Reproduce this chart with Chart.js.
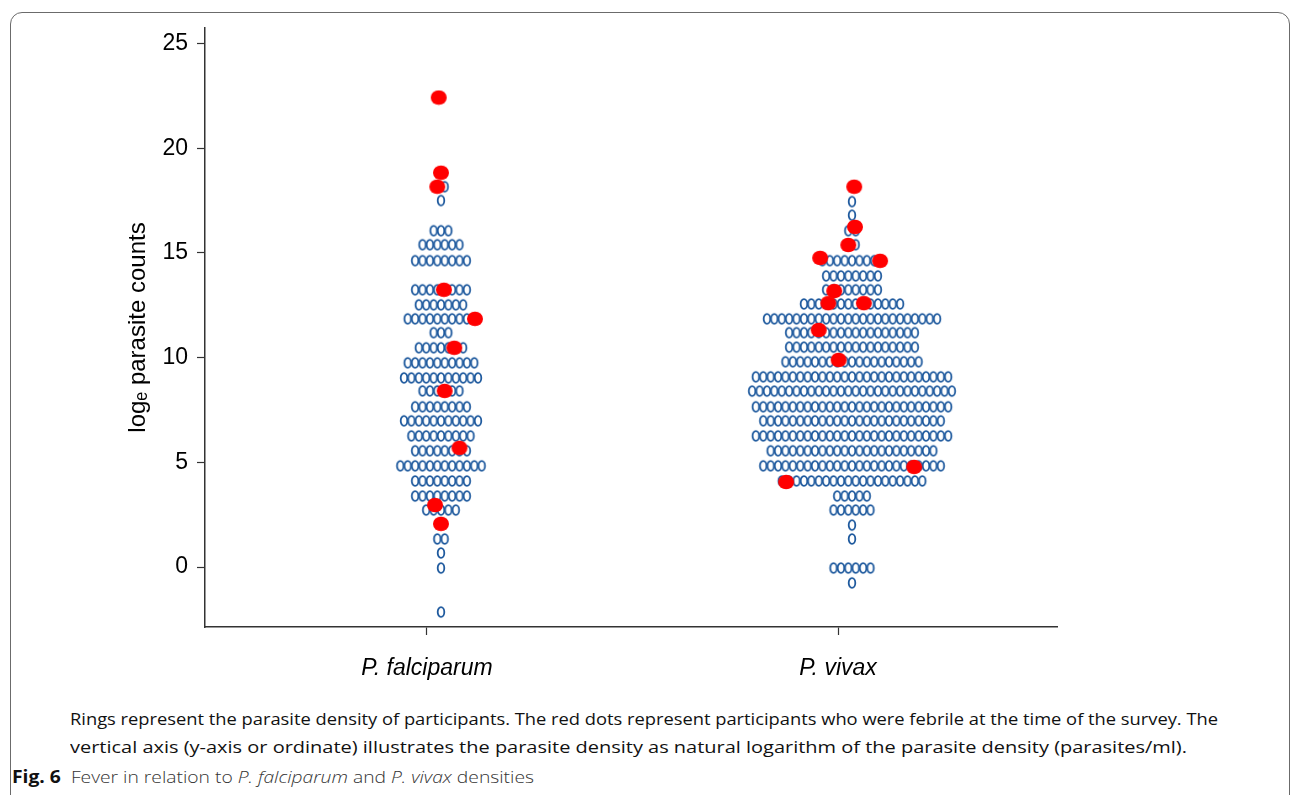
<!DOCTYPE html>
<html><head><meta charset="utf-8">
<script src="https://cdn.jsdelivr.net/npm/chart.js@4.4.1/dist/chart.umd.min.js"></script>
<style>
html,body{margin:0;padding:0;background:#fff;width:1292px;height:795px;overflow:hidden;}
#frame{position:absolute;left:10px;top:12px;width:1278px;height:900px;border:1px solid #6b6b6b;border-radius:12px;}
#wrap{position:absolute;left:0;top:0;width:1292px;height:700px;}
.cap{position:absolute;font-family:'Open Sans',Lato,sans-serif;color:#111;white-space:nowrap;line-height:1;transform-origin:0 50%;}
</style></head><body>
<div id="frame"></div>
<div id="wrap"><canvas id="c"></canvas></div>
<div class="cap" data-w="1148" style="left:70px;top:711px;font-size:16px">Rings represent the parasite density of participants. The red dots represent participants who were febrile at the time of the survey. The</div>
<div class="cap" data-w="1117" style="left:70px;top:739px;font-size:16px">vertical axis (y-axis or ordinate) illustrates the parasite density as natural logarithm of the parasite density (parasites/ml).</div>
<div class="cap" data-w="522" style="left:12px;top:768px;font-size:17px"><b style="font-weight:700">Fig. 6</b>&nbsp;&nbsp;<span style="font-weight:300;color:#333">Fever in relation to <i>P. falciparum</i> and <i>P. vivax</i> densities</span></div>
<script>
// ---- data ----
const categories = ['P. falciparum', 'P. vivax'];
const yTicks = [0, 5, 10, 15, 20, 25];

// rings: each row = log_e parasite count level, with number of participants in that row
const pfRowLevels = [22.42, 18.83, 18.16, 17.5, 16.06, 15.39, 14.63, 13.24, 12.52, 11.85, 11.19, 10.47, 9.75, 9.03, 8.41, 7.65, 6.98, 6.26, 5.55, 4.83, 4.11, 3.39, 2.72, 2.06, 1.34, 0.67, -0.05, -2.15];
const pfRowCounts = [1, 1, 2, 1, 3, 6, 8, 8, 7, 10, 3, 7, 10, 11, 6, 8, 11, 9, 8, 12, 8, 8, 5, 1, 2, 1, 1, 1];
const pvRowLevels = [18.16, 17.45, 16.8, 16.06, 15.39, 14.63, 13.9, 13.24, 12.56, 11.85, 11.19, 10.5, 9.8, 9.08, 8.4, 7.65, 6.98, 6.26, 5.55, 4.83, 4.11, 3.39, 2.72, 2.0, 1.34, -0.05, -0.76];
const pvRowCounts = [1, 1, 1, 2, 2, 9, 8, 8, 14, 24, 18, 18, 19, 27, 28, 27, 25, 27, 23, 25, 20, 5, 6, 1, 1, 6, 1];

// febrile participants (red dots): level and slot within the row (relative to centre)
const pfFebrileLevels = [22.42, 18.83, 18.16, 13.24, 11.85, 10.47, 8.41, 5.69, 2.96, 2.06];
const pfFebrileSlots = [-0.3, 0, -0.5, 0.4, 4.6, 1.8, 0.5, 2.5, -0.8, 0];
const pvFebrileLevels = [18.16, 16.24, 15.38, 14.76, 14.62, 13.18, 12.6, 12.6, 11.32, 9.89, 4.78, 4.06];
const pvFebrileSlots = [0.3, 0.4, -0.5, -4.3, 3.8, -2.4, -3.2, 1.6, -4.5, -1.8, 8.4, -8.9];

// ---- layout helpers ----
const groupCentre = [1.034, 2.034];
const slotWidth = 0.018;
function ringPoints(levels, counts, g) {
  const pts = [];
  levels.forEach((lv, i) => {
    const n = counts[i];
    for (let k = 0; k < n; k++) pts.push({x: groupCentre[g] + (k - (n - 1) / 2) * slotWidth, y: lv});
  });
  return pts;
}
function redPoints(levels, slots, g) {
  return levels.map((lv, i) => ({x: groupCentre[g] + slots[i] * slotWidth, y: lv}));
}
function makeRing() {
  const c = document.createElement('canvas'); c.width = 12; c.height = 14;
  const x = c.getContext('2d');
  x.strokeStyle = '#1f5a9e'; x.lineWidth = 1.8;
  x.beginPath(); x.ellipse(6, 7, 3.3, 4.9, 0, 0, Math.PI * 2); x.stroke();
  return c;
}
function makeDot() {
  const c = document.createElement('canvas'); c.width = 18; c.height = 16;
  const x = c.getContext('2d');
  x.fillStyle = '#ff0000';
  x.beginPath(); x.ellipse(9, 8, 8, 7.3, 0, 0, Math.PI * 2); x.fill();
  return c;
}
const ring = makeRing(), dot = makeDot();

const axisColor = '#333';
new Chart(document.getElementById('c'), {
  type: 'scatter',
  data: {
    datasets: [
      {label: 'febrile Pf', data: redPoints(pfFebrileLevels, pfFebrileSlots, 0), pointStyle: dot, order: 0},
      {label: 'febrile Pv', data: redPoints(pvFebrileLevels, pvFebrileSlots, 1), pointStyle: dot, order: 0},
      {label: 'Pf', data: ringPoints(pfRowLevels, pfRowCounts, 0), pointStyle: ring, order: 1},
      {label: 'Pv', data: ringPoints(pvRowLevels, pvRowCounts, 1), pointStyle: ring, order: 1}
    ]
  },
  options: {
    responsive: true, maintainAspectRatio: false, animation: false, devicePixelRatio: 1,
    layout: {padding: {left: 115, top: 28, right: 235, bottom: 0}},
    plugins: {legend: {display: false}, tooltip: {enabled: false}},
    scales: {
      x: {
        type: 'linear', min: 0.4599, max: 2.5328,
        afterBuildTicks: s => { s.ticks = [1, 2].map(v => ({value: v})); },
        afterFit: s => { s.height = 73; },
        ticks: {autoSkip: false, maxRotation: 0, padding: 20, color: '#000',
          font: {family: 'Liberation Sans, Arial, sans-serif', size: 23, style: 'italic'},
          callback: v => categories[Math.round(v) - 1]},
        grid: {drawOnChartArea: false, drawTicks: true, tickLength: 8, color: axisColor, tickWidth: 1.2},
        border: {display: true, color: axisColor, width: 1.5}
      },
      y: {
        type: 'linear', min: -2.865, max: 25.74,
        afterBuildTicks: s => { s.ticks = yTicks.map(v => ({value: v})); },
        afterFit: s => { s.width = 90; },
        ticks: {padding: 9, color: '#000', font: {family: 'Liberation Sans, Arial, sans-serif', size: 23}},
        grid: {drawOnChartArea: false, drawTicks: true, tickLength: 8, color: axisColor, tickWidth: 1.2},
        border: {display: true, color: axisColor, width: 1.5},
        title: {display: true, text: 'logₑ parasite counts', color: '#000', padding: {top: 9, bottom: 0},
          font: {family: 'Liberation Sans, Arial, sans-serif', size: 24}}
      }
    }
  }
});
document.querySelectorAll('.cap').forEach(el => {
  const w = el.getBoundingClientRect().width;
  el.style.transform = 'scaleX(' + (parseFloat(el.dataset.w) / w) + ')';
});
</script>
</body></html>
